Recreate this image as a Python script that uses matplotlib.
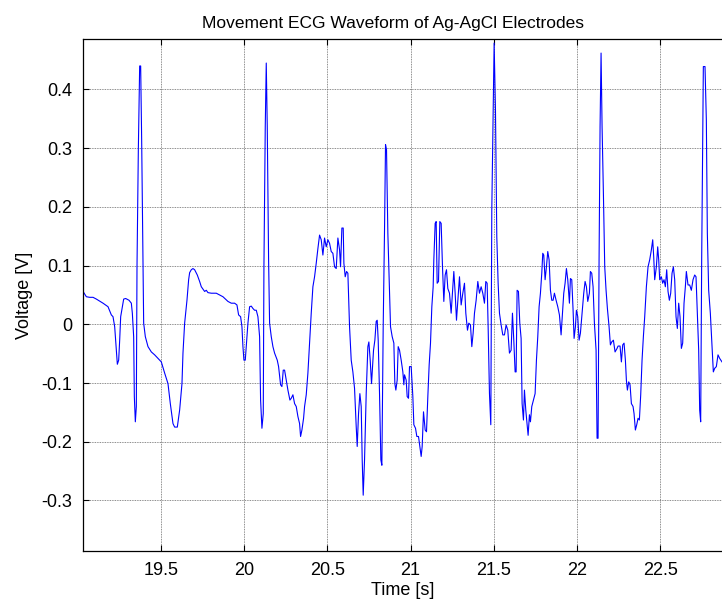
import matplotlib
matplotlib.use("Agg")
import matplotlib.pyplot as plt

plt.rcParams['font.family'] = ['Liberation Sans', 'DejaVu Sans']
plt.rcParams['axes.unicode_minus'] = False

# ECG samples: time [s], voltage [V]
time_s = [
    19.034, 19.054, 19.074, 19.094, 19.114, 19.154, 19.184, 19.204, 19.214, 19.224,
    19.234, 19.240, 19.248, 19.254, 19.260, 19.270, 19.278, 19.290, 19.310, 19.324,
    19.330, 19.338, 19.342, 19.348, 19.354, 19.358, 19.366, 19.374, 19.380, 19.386,
    19.394, 19.398, 19.408, 19.424, 19.444, 19.464, 19.484, 19.504, 19.524, 19.544,
    19.558, 19.574, 19.584, 19.600, 19.614, 19.628, 19.634, 19.644, 19.658, 19.668,
    19.674,
    19.684, 19.694, 19.704, 19.720, 19.734, 19.744, 19.764, 19.774, 19.784, 19.804,
    19.834, 19.854, 19.874, 19.904, 19.924, 19.944, 19.958, 19.968, 19.980, 19.988,
    19.994, 20.000, 20.008, 20.014, 20.024, 20.034, 20.044, 20.054, 20.064, 20.074,
    20.084, 20.094, 20.100, 20.108, 20.116, 20.120, 20.128, 20.134, 20.140, 20.148,
    20.154, 20.164, 20.174, 20.184, 20.200, 20.208, 20.220, 20.228, 20.236, 20.244,
    20.254, 20.264, 20.276, 20.284, 20.294, 20.304, 20.314, 20.324,
    20.334, 20.340, 20.348, 20.358, 20.364, 20.374, 20.384, 20.394, 20.404, 20.414,
    20.424, 20.434, 20.444, 20.454, 20.464, 20.474, 20.484, 20.494, 20.504, 20.514,
    20.524, 20.534, 20.544, 20.554, 20.564, 20.574, 20.580, 20.588, 20.596, 20.600,
    20.608, 20.616, 20.624, 20.634, 20.644, 20.654, 20.664, 20.674, 20.680, 20.688,
    20.696, 20.704, 20.710, 20.716, 20.724, 20.734, 20.744, 20.750, 20.758, 20.766,
    20.778, 20.786, 20.794, 20.800, 20.806, 20.814, 20.822, 20.828, 20.836, 20.844,
    20.850, 20.856, 20.864, 20.874, 20.880, 20.890, 20.900, 20.906, 20.912, 20.920,
    20.926, 20.934, 20.944, 20.954, 20.960,
    20.964, 20.974, 20.980, 20.988, 20.994, 21.004, 21.014, 21.020, 21.030, 21.038,
    21.048, 21.056, 21.064, 21.070, 21.078, 21.088, 21.096, 21.104, 21.112, 21.120,
    21.128, 21.136, 21.140, 21.148, 21.154, 21.160, 21.168, 21.176, 21.184, 21.192,
    21.200, 21.208, 21.216, 21.224, 21.234, 21.244, 21.254, 21.260, 21.268, 21.276,
    21.284, 21.294, 21.304, 21.314, 21.324, 21.332, 21.342, 21.350, 21.360, 21.368,
    21.376, 21.384, 21.394, 21.404, 21.414, 21.424, 21.434, 21.444, 21.452, 21.460,
    21.466, 21.474, 21.482, 21.488, 21.496, 21.502, 21.510, 21.518, 21.526, 21.534,
    21.544, 21.554, 21.564, 21.574, 21.584, 21.594, 21.604,
    21.612, 21.620, 21.628, 21.634, 21.640, 21.648, 21.656, 21.664, 21.670, 21.678,
    21.684, 21.692, 21.700, 21.706, 21.714, 21.720, 21.728, 21.738, 21.748, 21.756,
    21.764, 21.772, 21.780, 21.788, 21.794, 21.800, 21.808, 21.816, 21.824, 21.832,
    21.840, 21.848, 21.856, 21.864, 21.874, 21.884, 21.894, 21.904, 21.912, 21.920,
    21.928, 21.936, 21.944, 21.954, 21.960, 21.968, 21.976, 21.982, 21.990, 21.996,
    22.004, 22.012, 22.020, 22.030, 22.040, 22.048, 22.056, 22.064, 22.074, 22.080,
    22.088, 22.096, 22.104, 22.114, 22.120, 22.126, 22.132, 22.138, 22.144, 22.150,
    22.158, 22.166, 22.174, 22.182, 22.192, 22.200, 22.208, 22.218, 22.228, 22.240,
    22.246, 22.258, 22.266, 22.274, 22.282, 22.290, 22.296, 22.302, 22.310, 22.318,
    22.326, 22.336, 22.342, 22.350, 22.358, 22.366, 22.374, 22.382, 22.390, 22.398,
    22.406, 22.416, 22.426, 22.436, 22.446, 22.454, 22.460, 22.466, 22.476, 22.484,
    22.490, 22.496, 22.506, 22.514, 22.522, 22.530, 22.538, 22.546, 22.554, 22.562,
    22.570, 22.578, 22.586, 22.594, 22.602, 22.610, 22.618, 22.626, 22.634, 22.642,
    22.650, 22.656, 22.666, 22.676, 22.686, 22.696, 22.706, 22.714, 22.722, 22.730,
    22.736, 22.742, 22.748, 22.758, 22.768, 22.776, 22.782, 22.790, 22.800, 22.810,
    22.818, 22.826, 22.836, 22.846, 22.856, 22.870,
]
voltage_v = [
    0.056, 0.047, 0.046, 0.046, 0.043, 0.036, 0.030, 0.016, 0.013, -0.004,
    -0.044, -0.068, -0.061, -0.027, 0.013, 0.030, 0.043, 0.044, 0.041, 0.036,
    0.019, -0.021, -0.123, -0.166, -0.140, 0.098, 0.297, 0.440, 0.440, 0.314,
    0.098, 0.002, -0.021, -0.038, -0.047, -0.052, -0.058, -0.064, -0.083, -0.101,
    -0.135, -0.169, -0.175, -0.175, -0.146, -0.101, -0.049, 0.002, 0.041, 0.076,
    0.088,
    0.093, 0.095, 0.093, 0.084, 0.073, 0.064, 0.056, 0.058, 0.054, 0.053,
    0.053, 0.050, 0.047, 0.039, 0.036, 0.036, 0.033, 0.016, 0.013, -0.004,
    -0.038, -0.061, -0.061, -0.038, 0.002, 0.030, 0.031, 0.027, 0.024, 0.024,
    0.013, -0.021, -0.129, -0.177, -0.152, 0.098, 0.337, 0.445, 0.337, 0.110,
    0.002, -0.021, -0.038, -0.049, -0.061, -0.072, -0.103, -0.106, -0.078, -0.078,
    -0.095, -0.112, -0.129, -0.126, -0.120, -0.135, -0.140, -0.157,
    -0.169, -0.191, -0.180, -0.160, -0.140, -0.120, -0.083, -0.032, 0.019, 0.064,
    0.081, 0.104, 0.129, 0.152, 0.144, 0.118, 0.147, 0.132, 0.144, 0.138,
    0.124, 0.121, 0.098, 0.095, 0.147, 0.127, 0.098, 0.164, 0.164, 0.104,
    0.081, 0.090, 0.087, -0.004, -0.061, -0.081, -0.109, -0.174, -0.208, -0.152,
    -0.118, -0.140, -0.231, -0.291, -0.231, -0.118, -0.038, -0.030, -0.061, -0.101,
    -0.044, -0.027, 0.005, 0.007, -0.027, -0.118, -0.231, -0.240, -0.004, 0.161,
    0.306, 0.297, 0.155, 0.053, -0.004, -0.021, -0.032, -0.101, -0.112, -0.095,
    -0.038, -0.044, -0.061, -0.081, -0.103,
    -0.086, -0.095, -0.123, -0.126, -0.072, -0.072, -0.123, -0.171, -0.177, -0.191,
    -0.191, -0.208, -0.225, -0.208, -0.149, -0.180, -0.183, -0.123, -0.069, -0.032,
    0.030, 0.064, 0.110, 0.172, 0.175, 0.070, 0.073, 0.175, 0.172, 0.098,
    0.039, 0.084, 0.093, 0.061, 0.053, 0.019, 0.064, 0.090, 0.053, 0.007,
    0.041, 0.081, 0.033, 0.053, 0.070, 0.019, -0.010, 0.002, -0.001, -0.038,
    -0.015, 0.019, 0.041, 0.073, 0.053, 0.064, 0.053, 0.036, 0.073, 0.070,
    -0.004, -0.118, -0.171, 0.195, 0.365, 0.479, 0.365, 0.149, 0.070, 0.019,
    -0.001, -0.018, -0.018, -0.001, -0.010, -0.049, -0.044,
    0.019, -0.027, -0.081, -0.081, 0.058, 0.056, 0.002, -0.024, -0.135, -0.163,
    -0.112, -0.146, -0.171, -0.189, -0.154, -0.166, -0.140, -0.129, -0.118, -0.061,
    -0.021, 0.030, 0.053, 0.087, 0.121, 0.118, 0.076, 0.098, 0.124, 0.110,
    0.058, 0.041, 0.041, 0.053, 0.041, 0.030, 0.016, -0.018, 0.019, 0.053,
    0.070, 0.095, 0.076, 0.036, 0.078, 0.076, 0.024, -0.024, -0.004, 0.024,
    0.013, -0.027, -0.015, 0.019, 0.053, 0.073, 0.064, 0.039, 0.053, 0.090,
    0.087, 0.064, 0.002, -0.044, -0.194, -0.194, 0.110, 0.337, 0.462, 0.337,
    0.223, 0.098, 0.058, 0.027, -0.004, -0.035, -0.030, -0.027, -0.047, -0.041,
    -0.037, -0.037, -0.064, -0.035, -0.032, -0.061, -0.095, -0.112, -0.098, -0.103,
    -0.135, -0.140, -0.152, -0.180, -0.171, -0.160, -0.163, -0.120, -0.061, -0.021,
    0.013, 0.064, 0.098, 0.110, 0.127, 0.144, 0.115, 0.076, 0.098, 0.132,
    0.110, 0.076, 0.081, 0.070, 0.076, 0.064, 0.093, 0.056, 0.041, 0.053,
    0.087, 0.098, 0.076, 0.013, -0.007, 0.036, 0.013, -0.041, -0.032, 0.036,
    0.064, 0.090, 0.067, 0.067, 0.058, 0.076, 0.084, 0.081, 0.019, -0.044,
    -0.146, -0.166, 0.110, 0.439, 0.439, 0.348, 0.155, 0.058, 0.019, -0.038,
    -0.081, -0.075, -0.072, -0.052, -0.058, -0.064,
]

x_ticks = [19.5, 20, 20.5, 21, 21.5, 22, 22.5]
x_tick_labels = ['19.5', '20', '20.5', '21', '21.5', '22', '22.5']
y_ticks = [-0.3, -0.2, -0.1, 0, 0.1, 0.2, 0.3, 0.4]
y_tick_labels = ['-0.3', '-0.2', '-0.1', '0', '0.1', '0.2', '0.3', '0.4']

fig = plt.figure(figsize=(7.22, 6.07), dpi=100)
ax = fig.add_axes([0.115, 0.0923, 0.885, 0.8435])
ax.plot(time_s, voltage_v, color='#0000ff', linewidth=0.8)

ax.set_xlim(19.034, 22.87)
ax.set_ylim(-0.386, 0.486)
ax.set_xticks(x_ticks)
ax.set_xticklabels(x_tick_labels)
ax.set_yticks(y_ticks)
ax.set_yticklabels(y_tick_labels)
ax.tick_params(direction='in', top=True, length=4, width=0.8, labelsize=13, pad=8)
ax.grid(True, color='0.4', linestyle=(0, (1, 1)), linewidth=0.6)
ax.spines['right'].set_visible(False)
for s in ['left', 'top', 'bottom']:
    ax.spines[s].set_linewidth(0.9)

ax.set_title('Movement ECG Waveform of Ag-AgCl Electrodes', fontsize=12.5, pad=8, x=0.485)
ax.set_xlabel('Time [s]', fontsize=13, labelpad=2)
ax.set_ylabel('Voltage [V]', fontsize=13, labelpad=6)

fig.savefig('out.png', dpi=100)
